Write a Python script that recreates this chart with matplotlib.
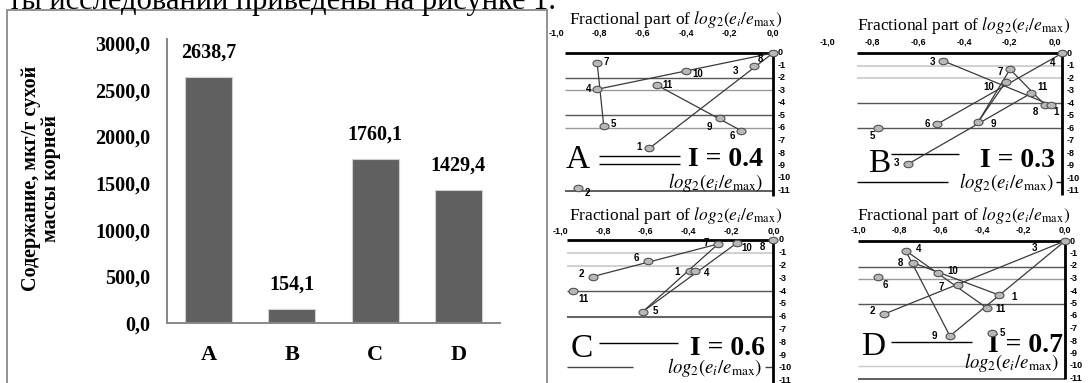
import matplotlib
matplotlib.use('Agg')
import matplotlib.pyplot as plt
from matplotlib.path import Path
from matplotlib.transforms import Affine2D
from matplotlib.patches import Rectangle

W, H, DPI = 1089, 383, 100

# ---------------- data ----------------
bar_categories = ['A', 'B', 'C', 'D']
bar_values = [2638.7, 154.1, 1760.1, 1429.4]
bar_yticks = [0, 500, 1000, 1500, 2000, 2500, 3000]
bar_ylabel = 'Содержание, мкг/г сухой\nмассы корней'
top_text = 'ты исследований приведены на рисунке 1.'

frac_ticks = [-1.0, -0.8, -0.6, -0.4, -0.2, 0.0]
log_ticks = [0, -1, -2, -3, -4, -5, -6, -7, -8, -9, -10, -11]
panel_names = ['A', 'B', 'C', 'D']
panel_index = ['I = 0.4', 'I = 0.3', 'I = 0.6', 'I = 0.7']

A_labels = ['8', '3', '7', '10', '4', '11', '5', '9', '6', '1', '2']
A_x = [0.0, -0.086, -0.81, -0.40, -0.81, -0.536, -0.78, -0.244, -0.147, -0.57, -0.897]
A_y = [0.0, -1.07, -0.83, -1.44, -2.9, -2.56, -5.84, -5.23, -6.21, -7.63, -10.77]
A_links = [(2, 6), (4, 0), (5, 8), (9, 0)]

B_labels = ['4', '3', '7', '10', '11', '8', '1', '6', '9', '5', '3']
B_x = [0.0, -0.523, -0.228, -0.247, -0.136, -0.075, -0.05, -0.549, -0.367, -0.806, -0.677]
B_y = [0.0, -0.59, -1.28, -2.3, -3.2, -4.13, -4.13, -5.68, -5.47, -6.0, -8.88]
B_links = [(1, 6), (0, 7), (10, 4), (2, 8), (2, 5), (3, 8)]

C_labels = ['8', '10', '7', '6', '1', '4', '2', '11', '5']
C_x = [0.0, -0.17, -0.26, -0.59, -0.392, -0.368, -0.849, -0.943, -0.614]
C_y = [0.0, -0.21, -0.31, -1.61, -2.4, -2.4, -2.86, -3.98, -5.6]
C_links = [(6, 2), (8, 2), (8, 1)]

D_labels = ['3', '4', '8', '10', '6', '7', '1', '11', '2', '9', '5']
D_x = [0.0, -0.77, -0.736, -0.612, -0.905, -0.518, -0.319, -0.375, -0.873, -0.556, -0.354]
D_y = [0.0, -0.77, -1.73, -2.59, -2.9, -3.52, -4.32, -5.39, -5.84, -7.6, -7.39]
D_links = [(8, 0), (1, 7), (2, 6), (1, 9), (9, 0)]

# ---------------- layout / style ----------------
LAB_OFF = {
    'A': [(-12.7, 5.7), (-18.7, 5), (9.3, -1.7), (11.7, 3), (-9, 0), (11, 0),
          (10, -1.7), (-10.7, 9), (-8.7, 5.3), (-10.3, -1.7), (9.3, 5)],
    'B': [(-9, 10), (-10, 1), (-9.3, 2.3), (-16.7, 5.3), (11.3, -6), (-9.3, 6.7),
          (5, 6.7), (-9, 0), (15, 2.7), (-6, 7.3), (-11, -1)],
    'C': [(-10.7, 6.7), (9.3, 5.7), (-11.7, -0.7), (-11.3, -2.3), (-13.3, 1),
          (11.7, 2.7), (-11, -2.7), (10.7, 8), (12.3, -1)],
    'D': [(-30.7, 6.7), (12.7, -1.3), (-12.7, 0), (14, -2.7), (7.3, 7.7), (-16.7, 1.7),
          (15.3, 1.7), (13.3, 1), (-12, -3.3), (-15.7, 0), (10.7, 0)],
}
GEOM = {  # pixel position of x=0 / y=0 and pixels per unit
    'A': dict(x0=773, sx=217, y0=53, sy=12.5, title=(-0.447, 2.64), tick_y=1.58, tick_dx=0.0,
              letter=(-0.9, -8.5), idx=(-0.046, -8.5), log=(-0.046, -10.4), axis_bot=-11.4),
    'B': dict(x0=1062, sx=228, y0=53.3, sy=12.5, title=(-0.43, 2.26), tick_y=0.88, tick_dx=-0.03,
              letter=(-0.8, -8.86), idx=(-0.03, -8.54), log=(-0.036, -10.35), axis_bot=-11.3),
    'C': dict(x0=773.5, sx=213, y0=240, sy=12.8, title=(-0.46, 1.95), tick_y=0.7, tick_dx=0.0,
              letter=(-0.9, -8.46), idx=(-0.04, -8.45), log=(-0.055, -9.95), axis_bot=-11.4),
    'D': dict(x0=1065, sx=207, y0=241, sy=12.5, title=(-0.49, 2.08), tick_y=0.88, tick_dx=0.0,
              letter=(-0.926, -8.46), idx=(-0.01, -8.4), log=(-0.03, -9.75), axis_bot=-11.0),
}
DARK, MID, LIGHT = '#555555', '#9a9a9a', '#c8c8c8'
GRID = {
    'A': [(0, -0.96, 0, 'black', 2.0), (-2, -0.96, 0, DARK, 1.0), (-3, -0.96, 0, MID, 1.0),
          (-5, -0.96, 0, DARK, 1.0), (-6, -0.96, 0, MID, 1.0), (-8.25, -0.8, -0.43, 'black', 1.0),
          (-8.9, -0.8, -0.43, 'black', 1.0), (-11, -0.96, 0, '#444444', 1.2)],
    'B': [(0, -0.9, 0, 'black', 2.0), (-1, -0.9, 0, LIGHT, 1.2), (-2, -0.9, 0, LIGHT, 1.2),
          (-4, -0.9, 0, DARK, 1.0), (-6, -0.9, 0, DARK, 1.0), (-8.06, -0.75, -0.45, 'black', 1.0),
          (-10.3, -0.9, -0.5, 'black', 1.0), (-10.3, -0.025, 0, 'black', 1.0)],
    'C': [(0, -0.97, 0, 'black', 2.0), (-1, -0.97, 0, LIGHT, 1.2), (-2.03, -0.97, 0, LIGHT, 1.2),
          (-4, -0.97, 0, DARK, 1.0), (-6, -0.97, 0, '#666666', 1.5), (-8.07, -0.82, -0.45, 'black', 1.0),
          (-9.9, -0.97, -0.66, '#444444', 1.0), (-9.9, -0.04, 0, '#444444', 1.0)],
    'D': [(0, -1, 0, 'black', 2.0), (-2.07, -1, 0, DARK, 1.0), (-3.07, -1, 0, MID, 1.0),
          (-5.07, -1, 0, DARK, 1.0), (-8.08, -0.84, -0.45, 'black', 1.0),
          (-10, -1, -0.4, LIGHT, 1.0), (-11, -1, 0, '#444444', 1.2)],
}
PANELS = {
    'A': (A_labels, A_x, A_y, A_links),
    'B': (B_labels, B_x, B_y, B_links),
    'C': (C_labels, C_x, C_y, C_links),
    'D': (D_labels, D_x, D_y, D_links),
}

plt.rcParams['font.family'] = ['Liberation Serif', 'DejaVu Serif']
plt.rcParams['mathtext.fontset'] = 'stix'

fig = plt.figure(figsize=(W / DPI, H / DPI), dpi=DPI)


def rect(l, t, r, b):
    return [l / W, 1 - b / H, (r - l) / W, (b - t) / H]


# outer frame of bar chart and cut-off top text
fig.patches.append(Rectangle((7 / W, -0.1), (547 - 7) / W, 1.1 - 10 / H, transform=fig.transFigure,
                             fill=False, edgecolor='#8a8a8a', linewidth=1.3))
fig.text(556 / W, 1 - 9 / H, top_text, ha='right', va='baseline', fontsize=22)

# ---------------- bar chart ----------------
ax = fig.add_axes(rect(167, 39, 500, 323))
xs = range(len(bar_categories))
ax.bar(xs, bar_values, width=0.565, color='#606060', edgecolor='#d0d0d0', linewidth=0.8)
ax.set_xlim(-0.5, len(bar_categories) - 0.5)
ax.set_ylim(0, 3045)
ax.set_yticks(bar_yticks)
ax.set_yticklabels([f'{v:.1f}'.replace('.', ',') for v in bar_yticks], fontsize=14.5, fontweight='bold')
ax.set_xticks(list(xs))
ax.set_xticklabels(bar_categories, fontsize=16, fontweight='bold')
ax.tick_params(axis='y', length=0, pad=12)
ax.tick_params(axis='x', length=0, pad=16)
for s in ['top', 'right']:
    ax.spines[s].set_visible(False)
for s in ['left', 'bottom']:
    ax.spines[s].set_color('#868686')
    ax.spines[s].set_linewidth(1.4)
for x, v in zip(xs, bar_values):
    ax.annotate(f'{v:.1f}'.replace('.', ','), (x, v), xytext=(0, 10), textcoords='offset points',
                ha='center', va='bottom', fontsize=14.5, fontweight='bold')
fig.text(41 / W, 1 - 178 / H, bar_ylabel, rotation=90, ha='center', va='center',
         multialignment='center', fontsize=14.5, fontweight='bold', linespacing=0.95)

# ---------------- diagram panels ----------------
ell = Path.unit_circle().transformed(Affine2D().scale(1.4, 1.0))
SANS = ['Liberation Sans', 'DejaVu Sans']
PT = 0.72

for name, idx_text in zip(panel_names, panel_index):
    g = GEOM[name]
    labels, px, py, links = PANELS[name]
    a = fig.add_axes(rect(g['x0'] - g['sx'], g['y0'], g['x0'], g['y0'] + 11 * g['sy']))
    a.set_xlim(-1, 0)
    a.set_ylim(-11, 0)
    a.axis('off')
    for (yv, x1, x2, c, lw) in GRID[name]:
        a.plot([x1, x2], [yv, yv], color=c, lw=lw, clip_on=False, zorder=1,
               solid_capstyle='butt')
    a.plot([0, 0], [0, g['axis_bot']], color='black', lw=2.0, clip_on=False, zorder=2,
           solid_capstyle='butt')
    for i, j in links:
        a.plot([px[i], px[j]], [py[i], py[j]], color='#3a3a3a', lw=0.9, clip_on=False, zorder=3)
    a.plot(px, py, linestyle='none', marker=ell, markersize=6.5, markerfacecolor='#b8b8b8',
           markeredgecolor='#505050', markeredgewidth=0.8, clip_on=False, zorder=4)
    for lbl, x, y, (dx, dy) in zip(labels, px, py, LAB_OFF[name]):
        a.annotate(lbl, (x, y), xytext=(dx * PT, -dy * PT), textcoords='offset points',
                   ha='center', va='center', fontsize=7, fontweight='bold', family=SANS,
                   zorder=5, annotation_clip=False)
    for t in frac_ticks:
        a.text(t + g['tick_dx'], g['tick_y'], f'{t:.1f}'.replace('.', ','), ha='center', va='center',
               fontsize=6.5, fontweight='bold', family=SANS, clip_on=False)
    for v in log_ticks:
        a.annotate(f'{v}', (0, v), xytext=(5 * PT, 0), textcoords='offset points', ha='left',
                   va='center', fontsize=6.5, fontweight='bold', family=SANS, annotation_clip=False)
    a.text(*g['title'], r'Fractional part of $log_2(e_i/e_{\mathrm{max}})$', ha='center',
           va='center', fontsize=12.5, clip_on=False)
    a.text(*g['letter'], name, ha='center', va='center', fontsize=24, clip_on=False)
    a.text(*g['idx'], idx_text, ha='right', va='center', fontsize=20, fontweight='bold', clip_on=False)
    a.text(*g['log'], r'$log_2(e_i/e_{\mathrm{max}})$', ha='right', va='center', fontsize=13.5,
           clip_on=False)

fig.savefig('out.png', dpi=DPI)
